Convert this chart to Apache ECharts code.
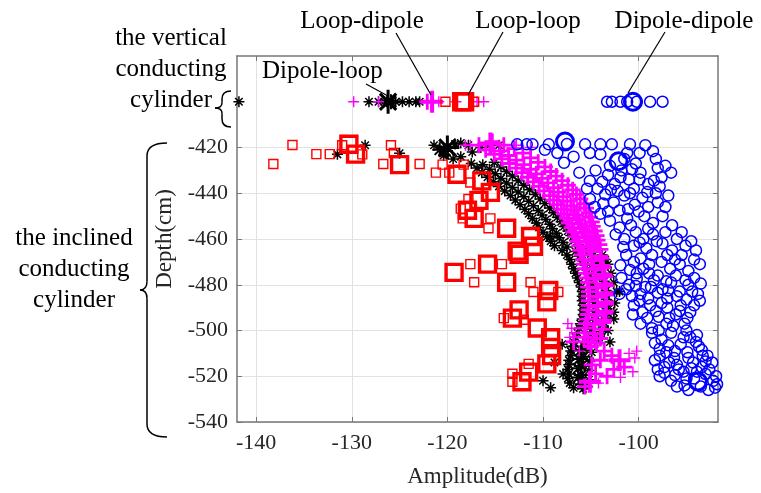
<!DOCTYPE html>
<html>
<head>
<meta charset="utf-8">
<script src="https://cdn.jsdelivr.net/npm/echarts@6/dist/echarts.min.js"></script>
<style>
html, body { margin: 0; padding: 0; background: #fff; }
#chart { width: 761px; height: 493px; }
</style>
</head>
<body>
<div id="chart"></div>
<script>
// tick labels
var xTicks = [-140, -130, -120, -110, -100];
var yTicks = [-540, -520, -500, -480, -460, -440, -420];

// [amplitude dB, depth cm, weight level 0/1/2]
var dipoleLoop = [
    [-141.8,-400,0],[-128.2,-400,0],[-127.2,-400,0],[-126.6,-400,0],[-126.2,-400,2],[-125.9,-400,1],[-125.4,-400,0],
    [-124.7,-400,0],[-124.0,-400,0],[-123.3,-400,0],[-122.9,-400,0],
    [-131.5,-423,0],[-128.6,-419,0],[-125.0,-422.5,0],
    [-121.4,-419,0],[-120.8,-421,1],[-120.0,-420,2],[-120.2,-421.5,1],[-119.2,-418.5,0],[-118.6,-418,0],[-117.8,-419,0],
    [-119.4,-425,0],[-120.4,-423.5,0],[-118.6,-424,0],[-117.4,-422,0],[-116.5,-420,0],[-115.6,-419,0],[-114.6,-419,0],
    [-117.5,-427,0],[-116.3,-427.5,0],[-115.1,-426.5,0],[-116.9,-429,0],[-115.6,-429.5,0],[-114.4,-428.5,0],
    [-116.4,-431,0],[-115.0,-431.5,0],[-113.8,-430.5,0],[-115.8,-433,0],[-114.4,-433.5,0],[-113.2,-432.5,0],
    [-115.2,-435,0],[-113.8,-435.5,0],[-112.6,-434.5,0],[-114.6,-437,0],[-113.2,-437.5,0],[-112.0,-436.5,0],
    [-114.0,-439,0],[-112.6,-439.5,0],[-111.4,-438.5,0],[-113.4,-441,0],[-112.0,-441.5,0],[-110.8,-440.5,0],
    [-112.9,-443,0],[-111.5,-443.5,0],[-110.3,-442.5,0],[-112.4,-445,0],[-111.0,-445.5,0],[-109.8,-444.5,0],
    [-111.9,-447,0],[-110.5,-447.5,0],[-109.3,-446.5,0],[-111.5,-449,0],[-110.1,-449.5,0],[-108.9,-448.5,0],
    [-111.1,-451,0],[-109.7,-451.5,0],[-108.5,-450.5,0],[-110.7,-453,0],[-109.3,-453.5,0],[-108.1,-452.5,0],
    [-110.4,-455,0],[-109.0,-455.5,0],[-107.8,-454.5,0],[-110.0,-457,0],[-108.6,-457.5,0],[-107.4,-456.5,0],
    [-109.6,-459,0],[-108.3,-459.5,0],[-107.1,-458.5,0],[-109.2,-461,0],[-107.9,-461.5,0],[-106.7,-460.5,0],
    [-108.8,-463,0],[-107.5,-463.5,0],[-106.3,-462.5,0],[-108.0,-465,0],[-106.6,-465.5,0],[-105.4,-464.5,0],
    [-107.5,-467,0],[-106.2,-467.5,0],[-105.0,-466.5,0],[-103.8,-467,0],[-107.2,-469,0],[-105.9,-469.5,0],[-104.7,-468.5,0],
    [-103.5,-469,0],[-107.0,-471,0],[-105.6,-471.5,0],[-104.4,-470.5,0],[-103.2,-471,0],[-106.8,-473,0],[-105.4,-473.5,0],
    [-104.2,-472.5,0],[-106.6,-475,0],[-105.2,-475.5,0],[-104.0,-474.5,0],[-102.9,-475,0],[-106.4,-477,0],[-105.0,-477.5,0],
    [-103.8,-476.5,0],[-106.2,-479,0],[-104.9,-479.5,0],[-103.6,-478.5,0],[-102.6,-479,0],[-106.0,-481,0],[-104.7,-481.5,0],
    [-103.5,-480.5,0],[-105.9,-483,0],[-104.6,-483.5,0],[-103.4,-482.5,0],[-102.3,-483,0],[-105.9,-485,0],[-104.6,-485.5,0],
    [-103.4,-484.5,0],[-105.9,-487,0],[-104.6,-487.5,0],[-103.4,-486.5,0],[-102.5,-488,0],[-105.8,-489,0],[-104.5,-489.5,0],
    [-103.3,-488.5,0],[-105.8,-491,0],[-104.5,-491.5,0],[-103.3,-490.5,0],[-102.6,-492,0],[-105.8,-493,0],[-104.5,-493.5,0],
    [-103.3,-492.5,0],[-105.9,-495,0],[-104.6,-495.5,0],[-103.4,-494.5,0],[-106.1,-497,0],[-104.8,-497.5,0],[-103.6,-496.5,0],
    [-106.2,-499,0],[-104.9,-499.5,0],[-103.7,-498.5,0],[-106.4,-501,0],[-105.1,-501.5,0],[-103.9,-500.5,0],
    [-106.6,-503,0],[-105.3,-503.5,0],[-104.1,-502.5,0],[-106.8,-505,0],[-105.5,-505.5,0],[-104.3,-504.5,0],
    [-106.8,-507,1],[-105.5,-507.5,0],[-107.1,-509,0],[-106.0,-508.5,1],[-104.9,-509.5,0],[-107.1,-511,0],[-105.8,-511.5,1],
    [-107.3,-513,0],[-106.2,-512.5,1],[-105.1,-513.5,0],[-107.3,-515,0],[-106.0,-515.5,1],[-107.4,-517,0],[-106.3,-516.5,1],
    [-105.2,-517.5,0],[-107.3,-519,0],[-106.0,-519.5,1],[-107.4,-521,0],[-106.3,-520.5,1],[-105.2,-521.5,0],[-107.2,-523,0],
    [-105.9,-523.5,1],[-106.8,-525,0],[-105.8,-525.5,0],
    [-110.0,-522,0],[-108.0,-506,0],[-107.9,-519,0],[-102.0,-483,0],[-108.8,-514,0],[-109.2,-525,0],[-103.2,-500,0],
    [-102.6,-495,0],[-103.0,-505,0],[-109.2,-459,0]
];
var loopDipole = [
    [-129.8,-400,0],[-127.2,-400,0],[-122.1,-400,1],[-121.6,-400,2],[-120.9,-400,0],[-119.1,-400,0],[-116.9,-400,0],[-116.2,-400,0],
    [-118.1,-419,0],[-117.6,-419,0],[-116.7,-419,1],[-115.5,-418.2,2],[-115.3,-417.4,1],[-114.1,-419,1],[-112.8,-419,0],[-111.3,-420,0],
    [-116.0,-421,1],[-114.5,-421.5,1],[-113.0,-420.5,1],[-115.1,-423,1],[-113.6,-423.5,1],[-112.1,-422.5,1],
    [-114.3,-425,1],[-112.8,-425.5,1],[-111.3,-424.5,1],[-113.5,-427,1],[-112.0,-427.5,1],[-110.5,-426.5,1],
    [-112.8,-429,1],[-111.3,-429.5,1],[-109.8,-428.5,1],[-112.2,-431,1],[-110.7,-431.5,1],[-109.2,-430.5,1],
    [-111.6,-433,1],[-110.1,-433.5,1],[-108.6,-432.5,1],[-111.0,-435,1],[-109.5,-435.5,1],[-108.0,-434.5,1],
    [-110.4,-437,1],[-108.9,-437.5,1],[-107.4,-436.5,1],[-109.9,-439,1],[-108.4,-439.5,1],[-106.9,-438.5,1],
    [-109.3,-441,1],[-107.9,-441.5,1],[-106.5,-440.5,1],[-108.9,-443,1],[-107.5,-443.5,1],[-106.1,-442.5,1],
    [-108.5,-445,1],[-107.1,-445.5,1],[-105.7,-444.5,1],[-108.1,-447,1],[-106.8,-447.5,1],[-105.5,-446.5,1],
    [-107.8,-449,1],[-106.5,-449.5,1],[-105.2,-448.5,1],[-107.5,-451,1],[-106.3,-451.5,1],[-105.1,-450.5,1],
    [-107.3,-453,1],[-106.1,-453.5,1],[-104.9,-452.5,1],[-107.0,-455,1],[-105.9,-455.5,1],[-104.8,-454.5,1],
    [-106.8,-457,1],[-105.7,-457.5,1],[-104.6,-456.5,1],[-106.6,-459,1],[-105.5,-459.5,1],[-104.4,-458.5,1],
    [-106.4,-461,1],[-105.3,-461.5,1],[-104.3,-460.5,1],[-106.2,-463,1],[-105.2,-463.5,1],[-104.1,-462.5,1],
    [-106.1,-465,1],[-105.0,-465.5,1],[-104.0,-464.5,1],[-105.9,-467,1],[-104.0,-467.5,1],
    [-105.8,-469,1],[-104.9,-469.5,1],[-103.9,-468.5,1],[-105.7,-471,1],[-103.8,-471.5,1],
    [-105.6,-473,1],[-104.7,-473.5,1],[-103.7,-472.5,1],[-105.5,-475,1],[-103.6,-475.5,1],
    [-105.4,-477,1],[-104.5,-477.5,1],[-103.5,-476.5,1],[-105.3,-479,1],[-103.5,-479.5,1],
    [-105.3,-481,1],[-104.4,-481.5,1],[-103.4,-480.5,1],[-105.2,-483,1],[-103.4,-483.5,1],
    [-105.2,-485,1],[-104.3,-485.5,1],[-103.4,-484.5,1],[-105.2,-487,1],[-103.4,-487.5,1],
    [-105.2,-489,1],[-104.3,-489.5,1],[-103.4,-488.5,1],[-105.2,-491,1],[-103.4,-491.5,1],
    [-105.3,-493,1],[-104.4,-493.5,1],[-103.5,-492.5,1],[-105.4,-495,1],[-103.6,-495.5,1],
    [-105.5,-497,1],[-104.6,-497.5,1],[-103.7,-496.5,1],[-105.6,-499,1],[-103.8,-499.5,1],
    [-105.6,-501,1],[-104.7,-501.5,1],[-105.7,-503,1],[-104.0,-503.5,1],[-105.3,-505,1],[-104.4,-505.5,1],[-105.0,-507,1],
    [-107.4,-497,0],[-107.0,-499,0],[-106.6,-501,0],[-107.2,-503,0],[-106.8,-505,1],
    [-103.6,-509,1],[-102.8,-511,1],[-102.0,-513,2],[-101.0,-510,0],[-100.4,-512,0],[-101.5,-516,1],[-100.6,-518,0],
    [-102.6,-517,1],[-103.3,-520,1],[-101.9,-520.5,0],[-100.2,-509,0],
    [-105.1,-522.4,2],[-104.5,-519,1],[-105.6,-524.5,1],[-104.2,-523,0],[-104.9,-515,1],[-104.0,-513,1],[-106.2,-509,0]
];
var loopLoop = [
    [-120.2,-400,0],[-118.5,-400,2],[-118.2,-400,2],[-117.2,-400,0],
    [-138.2,-427.2,0],[-136.2,-418.9,0],[-133.7,-422.9,0],[-132.3,-422.9,0],[-130.3,-418.6,2],[-129.6,-422.9,2],[-131.0,-419,0],
    [-128.9,-423,0],[-125.9,-419,0],[-125.6,-422.4,0],[-125.0,-427.5,2],[-126.7,-427.2,0],[-122.9,-427.2,0],[-121.2,-431,0],
    [-120.5,-427.5,0],[-119.8,-431,0],[-119.0,-431.7,2],[-118.3,-427.5,0],[-117.6,-435.3,0],[-116.4,-434.6,2],[-115.5,-439.6,2],
    [-116.7,-443.1,2],[-117.8,-442.5,0],[-117.9,-447.4,2],[-118.6,-446.7,0],[-117.2,-451,2],[-115.5,-451,0],[-115.7,-455.3,0],
    [-118.4,-451,0],[-113.8,-455.3,2],[-111.3,-458.9,2],[-111.0,-463.2,2],[-112.7,-465.3,2],
    [-119.3,-474.6,2],[-117.6,-471,0],[-115.8,-471,2],[-114.3,-471,0],[-117.2,-478.9,0],[-113.8,-478.9,2],[-112.5,-466.7,2],
    [-111.3,-478.9,0],[-111.0,-483.2,0],[-109.4,-482.5,2],[-109.6,-487.5,2],[-108.4,-483.2,0],[-112.5,-491,2],[-113.2,-494.6,2],
    [-114.1,-494.6,0],[-112.0,-495.3,0],[-110.6,-498.9,2],[-109.2,-503.2,2],[-109.2,-507.4,2],[-109.1,-511,2],[-109.6,-514.6,2],
    [-111.5,-518.2,2],[-111.5,-514.6,0],[-112.2,-522.4,2],[-113.2,-518.9,0],[-113.2,-522.4,0]
];
var dipoleDipole = [
    [-103.3,-400,0],[-102.8,-400,0],[-101.9,-400,0],[-101.2,-400,0],[-100.6,-400,2],[-100.2,-400,0],[-98.8,-400,0],[-97.5,-400,0],
    [-112.7,-418.6,0],[-111.7,-418.6,0],[-111.1,-418.6,0],[-109.4,-418.6,0],[-107.7,-417.4,2],[-107.5,-418.5,0],[-108.5,-422.4,0],
    [-107.8,-426.7,0],[-105.6,-418.6,0],[-105.1,-422.4,0],[-104.0,-418.6,0],[-102.8,-418.6,0],[-104.0,-423,0],[-102.1,-426,2],
    [-101.2,-422.4,0],[-100.9,-418.6,0],[-99.9,-422.4,0],[-99.3,-419,0],[-98.5,-421.6,0],[-101.5,-425,0],[-100.3,-427,0],[-103.0,-428,0],
    [-109.8,-421,0],[-106.8,-424,0],[-106.2,-431,0],[-98.2,-425,0],[-97.2,-428,0],[-96.6,-431,0],
    [-105.1,-434.6,0],[-105.1,-442.5,0],[-104.3,-438,0],[-103.2,-432,0],[-102.5,-436,0],[-101.8,-430,0],[-101.0,-434,0],
    [-100.5,-438,0],[-101.5,-441,0],[-102.6,-444,0],[-99.8,-431,0],[-99.0,-436,0],[-98.2,-440,0],[-99.6,-442,0],[-100.4,-445,0],
    [-98.0,-429,0],[-97.6,-433,0],[-101.1,-447,0],[-99.0,-446,0],[-103.5,-440.5,0],[-100.7,-429.5,0],[-102.2,-439,0],
    [-104.5,-430,0],[-103.8,-435,0],[-102.9,-438.5,0],[-101.9,-433,0],[-100.9,-440,0],[-99.9,-434,0],[-99.1,-439.5,0],
    [-98.4,-434.5,0],[-97.8,-437,0],[-96.9,-441,0],[-98.0,-444,0],[-97.2,-446,0],[-100.0,-448,0],[-102.0,-447.5,0],
    [-103.7,-444.5,0],[-104.6,-446,0],[-105.4,-438,0],
    [-104.0,-449,0],[-103.0,-452,0],[-102.0,-455,0],[-101.2,-451,0],[-100.3,-457,0],[-99.4,-450,0],[-98.5,-453,0],[-97.5,-450,0],
    [-96.5,-454,0],[-95.5,-457,0],[-94.5,-461,0],[-101.5,-460,0],[-100.5,-463,0],[-99.5,-460,0],[-98.5,-458,0],[-97.5,-462,0],
    [-96.5,-465,0],[-95.5,-467,0],[-94.2,-469,0],[-101.3,-467,0],[-100.5,-470,0],[-99.5,-473,0],[-98.6,-467,0],[-97.6,-470,0],
    [-96.7,-473,0],[-95.7,-471,0],[-94.8,-474,0],[-99.2,-464,0],[-97.2,-457,0],[-98.0,-476,0],[-100.2,-475,0],
    [-103.2,-448,0],[-102.4,-458,0],[-101.6,-463.5,0],[-100.8,-454,0],[-99.9,-461.5,0],[-99.0,-455.5,0],[-98.1,-461,0],
    [-97.0,-467,0],[-96.0,-460,0],[-95.1,-463,0],[-94.0,-465,0],[-93.6,-471,0],[-96.1,-476,0],[-97.1,-478.5,0],[-94.2,-477,0],
    [-93.5,-479.5,0],[-101.9,-471.5,0],[-100.9,-473.5,0],[-99.8,-468.5,0],[-98.9,-471,0],[-98.9,-475,0],[-96.2,-469,0],[-95.1,-478,0],
    [-101.8,-477,0],[-101.0,-480,0],[-100.2,-477.5,0],[-99.3,-481,0],[-98.4,-478,0],[-97.5,-482,0],[-96.6,-479,0],[-95.7,-483,0],
    [-94.8,-480,0],[-93.8,-484,0],[-102.0,-484,0],[-100.7,-485,0],[-99.0,-486,0],[-97.0,-486,0],[-95.0,-486.5,0],[-98.0,-483.5,0],
    [-101.3,-482,0],[-100.3,-480.5,0],[-99.8,-484,0],[-98.7,-481,0],[-96.9,-482.5,0],[-96.0,-485,0],[-94.4,-483,0],[-93.6,-487,0],
    [-100.5,-489,0],[-99.6,-492,0],[-98.8,-489,0],[-97.9,-494,0],[-97.0,-490,0],[-96.1,-493,0],[-95.2,-497,0],[-99.8,-497,0],
    [-98.6,-499,0],[-97.1,-497,0],[-95.6,-489,0],[-94.6,-492,0],
    [-97.6,-488,0],[-99.9,-487,0],[-98.2,-491.5,0],[-96.8,-494.5,0],[-95.7,-491.5,0],[-94.9,-494.5,0],[-94.2,-489,0],
    [-99.1,-494.5,0],[-100.6,-493,0],[-96.4,-498,0],
    [-98.6,-501,0],[-97.6,-504,0],[-96.6,-501,0],[-95.6,-506,0],[-94.6,-503,0],[-93.7,-507,0],[-97.8,-508,0],[-96.2,-509,0],[-94.9,-509.5,0],
    [-95.0,-500,0],[-97.9,-500,0],[-93.9,-502,0],[-94.0,-505,0],[-96.9,-506.5,0],[-98.3,-505.5,0],[-95.3,-503,0],[-97.1,-509.5,0],
    [-93.4,-508.5,0],[-92.8,-511,0],
    [-98.3,-513,0],[-97.3,-516,0],[-96.3,-512,0],[-95.3,-518,0],[-94.3,-514,0],[-93.3,-511,0],[-92.3,-514,0],[-91.6,-517,0],
    [-97.8,-520,0],[-96.6,-522,0],[-95.2,-524,0],[-94.2,-521,0],[-93.8,-522.3,2],[-93.0,-519,0],[-92.2,-522,0],[-94.8,-526,0],
    [-92.7,-526,0],[-96.0,-515,0],[-91.8,-523.5,0],[-93.4,-516,0],
    [-97.8,-511,0],[-96.8,-514,0],[-95.8,-517,0],[-94.8,-512,0],[-93.9,-518,0],[-92.6,-517,0],[-91.9,-520,0],[-97.3,-518.5,0],
    [-96.2,-519.5,0],[-95.0,-521,0],[-93.5,-524.5,0],[-92.0,-525,0],[-96.0,-524.5,0],[-98.0,-517,0],[-94.5,-516.5,0],[-93.0,-513.5,0]
];

var FONT = 'Liberation Serif';
var PLUS = 'path://M0,5L10,5M5,0L5,10';
var STAR = 'path://M5,0L5,10M0,5L10,5M1.6,1.6L8.4,8.4M8.4,1.6L1.6,8.4';

// one scatter series per weight level: [symbolSize, lineWidth]
function makeSeries(name, pts, symbol, color, levels) {
    return levels.map(function (lv, w) {
        return {
            name: name,
            type: 'scatter',
            symbol: symbol,
            symbolSize: lv[0],
            data: pts.filter(function (p) { return p[2] === w; }).map(function (p) { return [p[0], p[1]]; }),
            itemStyle: { color: 'rgba(0,0,0,0)', borderColor: color, borderWidth: lv[1], opacity: 1 },
            emphasis: { disabled: true },
            silent: true
        };
    });
}

// curly brace "{" built from quadratic curves and lines
function brace(xr, xs, xm, yTop, yMid, yBot, r) {
    var st = { stroke: '#000', lineWidth: 1.5, fill: 'none' };
    function q(x1, y1, cx, cy, x2, y2) {
        return { type: 'bezierCurve', z: 100, shape: { x1: x1, y1: y1, cpx1: cx, cpy1: cy, x2: x2, y2: y2 }, style: st };
    }
    function l(x1, y1, x2, y2) {
        return { type: 'line', z: 100, shape: { x1: x1, y1: y1, x2: x2, y2: y2 }, style: st };
    }
    return [
        q(xr, yTop, xs, yTop, xs, yTop + r),
        l(xs, yTop + r, xs, yMid - r / 1.5),
        q(xs, yMid - r / 1.5, xs, yMid, xm, yMid),
        q(xm, yMid, xs, yMid, xs, yMid + r / 1.5),
        l(xs, yMid + r / 1.5, xs, yBot - r),
        q(xs, yBot - r, xs, yBot, xr, yBot)
    ];
}

function label(text, x, y, align, vAlign) {
    return { type: 'text', z: 100, style: { text: text, x: x, y: y, align: align, verticalAlign: vAlign,
        lineHeight: 31, fontFamily: FONT, fontSize: 25, fill: '#000' } };
}
function leader(x1, y1, x2, y2) {
    return { type: 'line', z: 100, shape: { x1: x1, y1: y1, x2: x2, y2: y2 }, style: { stroke: '#000', lineWidth: 1.2 } };
}

var axisGray = '#777';
var tickFont = { color: '#262626', fontFamily: FONT, fontSize: 22 };

var myChart = echarts.init(document.getElementById('chart'));
var option = {
    animation: false,
    grid: { left: 237, right: 43, top: 56, bottom: 65 },
    xAxis: [{
        type: 'value', min: -142, max: -91.7, position: 'bottom',
        axisLine: { onZero: false, lineStyle: { color: axisGray, width: 1.5 } },
        axisTick: { inside: true, length: 5, customValues: xTicks, lineStyle: { color: axisGray } },
        axisLabel: Object.assign({ customValues: xTicks, margin: 10 }, tickFont),
        splitLine: { show: true, lineStyle: { color: '#e2e2e2' } },
        name: 'Amplitude(dB)', nameLocation: 'middle', nameGap: 43,
        nameTextStyle: { color: '#262626', fontFamily: FONT, fontSize: 23 }
    }, {
        type: 'value', min: -142, max: -91.7, position: 'top',
        axisLine: { onZero: false, lineStyle: { color: axisGray, width: 1.5 } },
        axisTick: { inside: true, length: 5, customValues: xTicks, lineStyle: { color: axisGray } },
        axisLabel: { show: false },
        splitLine: { show: false }
    }],
    yAxis: [{
        type: 'value', min: -540, max: -380, interval: 20, position: 'left',
        axisLine: { show: true, onZero: false, lineStyle: { color: axisGray, width: 1.5 } },
        axisTick: { show: true, inside: true, length: 5, customValues: yTicks, lineStyle: { color: axisGray } },
        axisLabel: Object.assign({ customValues: yTicks, margin: 9 }, tickFont),
        splitLine: { show: true, lineStyle: { color: '#e2e2e2' } },
        name: 'Depth(cm)', nameLocation: 'middle', nameGap: 55, nameRotate: 90,
        nameTextStyle: { color: '#262626', fontFamily: FONT, fontSize: 23 }
    }, {
        type: 'value', min: -540, max: -380, interval: 20, position: 'right',
        axisLine: { show: true, onZero: false, lineStyle: { color: axisGray, width: 1.5 } },
        axisTick: { show: true, inside: true, length: 5, customValues: yTicks, lineStyle: { color: axisGray } },
        axisLabel: { show: false },
        splitLine: { show: false }
    }],
    series: [].concat(
        makeSeries('Dipole-loop', dipoleLoop, STAR, '#000000', [[11, 1.5], [15, 2], [24, 3]]),
        makeSeries('Loop-dipole', loopDipole, PLUS, '#ff00ff', [[11, 1.4], [16, 2.8], [22, 4]]),
        makeSeries('Loop-loop', loopLoop, 'rect', '#ff0000', [[9, 1.4], [12, 2], [16, 3.4]]),
        makeSeries('Dipole-dipole', dipoleDipole, 'circle', '#0000ff', [[11, 1.5], [13, 2], [17, 3]])
    ),
    graphic: [].concat(
        [
            label('Loop-dipole', 362, 21, 'center', 'middle'),
            label('Loop-loop', 528, 21, 'center', 'middle'),
            label('Dipole-dipole', 684, 21, 'center', 'middle'),
            label('Dipole-loop', 262, 71, 'left', 'middle'),
            label('the vertical\nconducting\ncylinder', 171, 23, 'center', 'top'),
            label('the inclined\nconducting\ncylinder', 74, 223, 'center', 'top'),
            leader(396, 33, 431, 95),
            leader(503, 32, 468, 95),
            leader(665, 32, 628, 93),
            leader(366, 84, 388, 96)
        ],
        brace(231, 222, 215, 91, 108, 127, 8),
        brace(167, 147, 140, 143, 290, 437, 13)
    )
};
myChart.setOption(option);
</script>
</body>
</html>
